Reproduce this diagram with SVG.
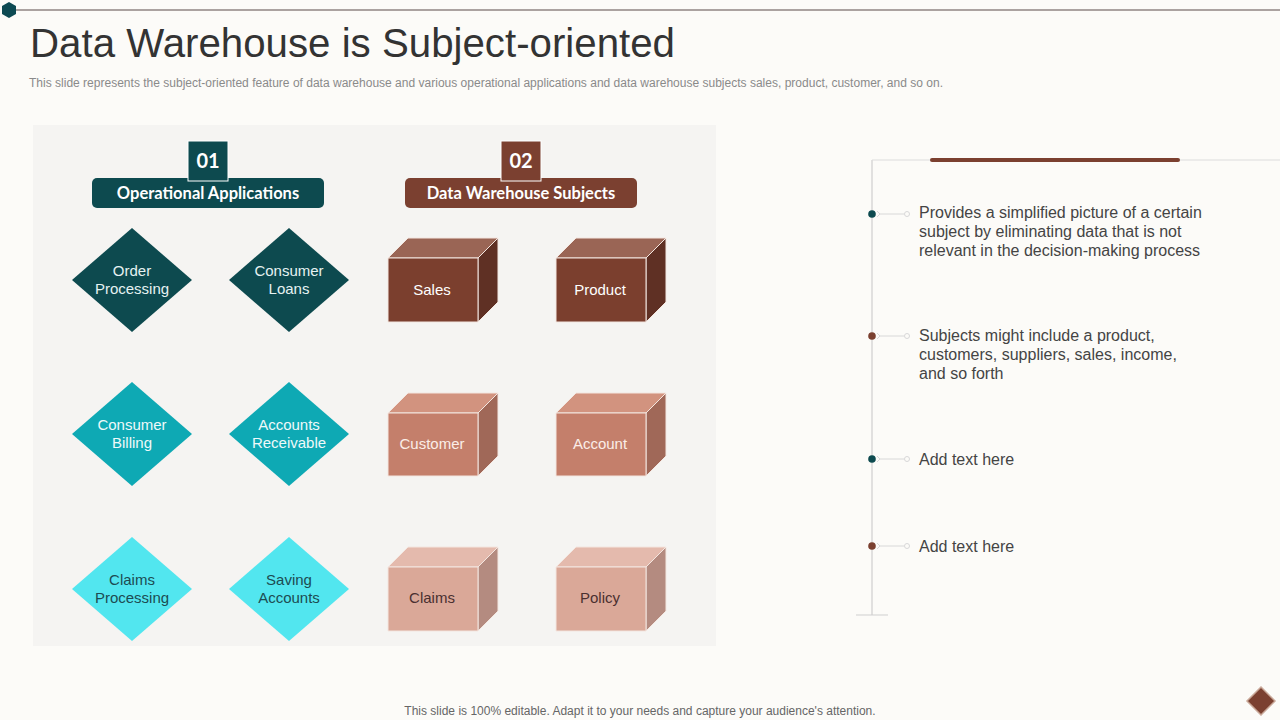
<svg xmlns="http://www.w3.org/2000/svg" width="1280" height="720" viewBox="0 0 1280 720">
<style>
.sans{font-family:"Liberation Sans",Arial,sans-serif}
.dia{stroke:none}
.dtxt{font-family:"Liberation Sans",Arial,sans-serif;font-size:15px;text-anchor:middle}
.ctxt{font-family:"Liberation Sans",Arial,sans-serif;font-size:15px;text-anchor:middle}
.edge{stroke:#f3e6e0;stroke-width:1;stroke-linejoin:round}
.btxt{font-family:"Liberation Sans",Arial,sans-serif;font-size:16px;fill:#444}
.hdr{font-family:"Lato","Liberation Sans",sans-serif;font-weight:bold;fill:#fff;text-anchor:middle}
</style>
<rect width="1280" height="720" fill="#fcfbf8"/>
<g id="topbar">
<line x1="12" y1="10" x2="1280" y2="10" stroke="#5a4a48" stroke-width="1.2"/>
<polygon points="9,2 16,6 16,14 9,18 2,14 2,6" fill="#0d4a52"/>
</g>
<text class="sans" x="30" y="57" font-size="40" fill="#333" textLength="645" lengthAdjust="spacingAndGlyphs">Data Warehouse is Subject-oriented</text>
<text class="sans" x="29" y="87" font-size="12" fill="#8a8a8a" textLength="914" lengthAdjust="spacingAndGlyphs">This slide represents the subject-oriented feature of data warehouse and various operational applications and data warehouse subjects sales, product, customer, and so on.</text>
<rect x="33" y="125" width="683" height="521" fill="#f5f4f2"/>

<g id="hdr1">
<rect x="92" y="178" width="232" height="30" rx="5" fill="#0d4a4f"/>
<rect x="188" y="141" width="40" height="40" fill="#0d4a4f" stroke="#ffffff" stroke-width="1"/>
<text class="hdr" x="208" y="168" font-size="20">01</text>
<text class="hdr" x="208" y="199" font-size="16.5">Operational Applications</text>
</g>
<g id="hdr2">
<rect x="405" y="178" width="232" height="30" rx="5" fill="#7b4030"/>
<rect x="501" y="141" width="40" height="40" fill="#7b4030" stroke="#ffffff" stroke-width="1"/>
<text class="hdr" x="521" y="168" font-size="20">02</text>
<text class="hdr" x="521" y="199" font-size="16.5">Data Warehouse Subjects</text>
</g>

<g id="d-order"><polygon class="dia" points="132,228 192,280 132,332 72,280" fill="#0d4a4f"/><text class="dtxt" x="132" y="276" fill="#e6f2f2">Order</text><text class="dtxt" x="132" y="294" fill="#e6f2f2">Processing</text></g>
<g id="d-loans"><polygon class="dia" points="289,228 349,280 289,332 229,280" fill="#0d4a4f"/><text class="dtxt" x="289" y="276" fill="#e6f2f2">Consumer</text><text class="dtxt" x="289" y="294" fill="#e6f2f2">Loans</text></g>
<g id="d-billing"><polygon class="dia" points="132,382 192,434 132,486 72,434" fill="#0ea9b4"/><text class="dtxt" x="132" y="430" fill="#eef9fa">Consumer</text><text class="dtxt" x="132" y="448" fill="#eef9fa">Billing</text></g>
<g id="d-recv"><polygon class="dia" points="289,382 349,434 289,486 229,434" fill="#0ea9b4"/><text class="dtxt" x="289" y="430" fill="#eef9fa">Accounts</text><text class="dtxt" x="289" y="448" fill="#eef9fa">Receivable</text></g>
<g id="d-claims"><polygon class="dia" points="132,537 192,589 132,641 72,589" fill="#52e6ef"/><text class="dtxt" x="132" y="585" fill="#1d4c52">Claims</text><text class="dtxt" x="132" y="603" fill="#1d4c52">Processing</text></g>
<g id="d-saving"><polygon class="dia" points="289,537 349,589 289,641 229,589" fill="#52e6ef"/><text class="dtxt" x="289" y="585" fill="#1d4c52">Saving</text><text class="dtxt" x="289" y="603" fill="#1d4c52">Accounts</text></g>

<g id="c-sales">
<polygon class="edge" points="388,258 408,238 498,238 478,258" fill="#9a6555"/>
<polygon class="edge" points="478,258 498,238 498,302 478,322" fill="#5f3024"/>
<rect class="edge" x="388" y="258" width="90" height="64" fill="#7b3f2e"/>
<text class="ctxt" x="432" y="295" fill="#fff">Sales</text>
</g>
<g id="c-product">
<polygon class="edge" points="556,258 576,238 666,238 646,258" fill="#9a6555"/>
<polygon class="edge" points="646,258 666,238 666,302 646,322" fill="#5f3024"/>
<rect class="edge" x="556" y="258" width="90" height="64" fill="#7b3f2e"/>
<text class="ctxt" x="600" y="295" fill="#fff">Product</text>
</g>
<g id="c-customer">
<polygon class="edge" points="388,413 408,393 498,393 478,413" fill="#d2937f"/>
<polygon class="edge" points="478,413 498,393 498,456 478,476" fill="#a06858"/>
<rect class="edge" x="388" y="413" width="90" height="63" fill="#c47f6b"/>
<text class="ctxt" x="432" y="449" fill="#fbeee8">Customer</text>
</g>
<g id="c-account">
<polygon class="edge" points="556,413 576,393 666,393 646,413" fill="#d2937f"/>
<polygon class="edge" points="646,413 666,393 666,456 646,476" fill="#a06858"/>
<rect class="edge" x="556" y="413" width="90" height="63" fill="#c47f6b"/>
<text class="ctxt" x="600" y="449" fill="#fbeee8">Account</text>
</g>
<g id="c-claims">
<polygon class="edge" points="388,567 408,547 498,547 478,567" fill="#e4baad"/>
<polygon class="edge" points="478,567 498,547 498,611 478,631" fill="#b48b80"/>
<rect class="edge" x="388" y="567" width="90" height="64" fill="#daa898"/>
<text class="ctxt" x="432" y="603" fill="#4a3030">Claims</text>
</g>
<g id="c-policy">
<polygon class="edge" points="556,567 576,547 666,547 646,567" fill="#e4baad"/>
<polygon class="edge" points="646,567 666,547 666,611 646,631" fill="#b48b80"/>
<rect class="edge" x="556" y="567" width="90" height="64" fill="#daa898"/>
<text class="ctxt" x="600" y="603" fill="#4a3030">Policy</text>
</g>

<g id="timeline">
<line x1="872" y1="160" x2="872" y2="615" stroke="#cfcfcf" stroke-width="1.2"/>
<line x1="872" y1="160" x2="1280" y2="160" stroke="#dcdcdc" stroke-width="1"/>
<line x1="856" y1="615" x2="888" y2="615" stroke="#cfcfcf" stroke-width="1"/>
<line x1="932" y1="160" x2="1178" y2="160" stroke="#7b4030" stroke-width="4" stroke-linecap="round"/>
</g>
<g id="connectors" fill="none" stroke="#d8d8d8" stroke-width="1">
<path d="M877,211 l3,3 l-3,3 M880,214 H904"/><circle cx="907" cy="214" r="2.5"/>
<path d="M877,333 l3,3 l-3,3 M880,336 H904"/><circle cx="907" cy="336" r="2.5"/>
<path d="M877,456 l3,3 l-3,3 M880,459 H904"/><circle cx="907" cy="459" r="2.5"/>
<path d="M877,543 l3,3 l-3,3 M880,546 H904"/><circle cx="907" cy="546" r="2.5"/>
</g>
<g id="b1"><circle cx="872" cy="214" r="3.8" fill="#0d4a4f"/>
<text class="btxt" x="919" y="218">Provides a simplified picture of a certain</text>
<text class="btxt" x="919" y="237">subject by eliminating data that is not</text>
<text class="btxt" x="919" y="256">relevant in the decision-making process</text></g>
<g id="b2"><circle cx="872" cy="336" r="3.8" fill="#7b4030"/>
<text class="btxt" x="919" y="341">Subjects might include a product,</text>
<text class="btxt" x="919" y="360">customers, suppliers, sales, income,</text>
<text class="btxt" x="919" y="379">and so forth</text></g>
<g id="b3"><circle cx="872" cy="459" r="3.8" fill="#0d4a4f"/>
<text class="btxt" x="919" y="465">Add text here</text></g>
<g id="b4"><circle cx="872" cy="546" r="3.8" fill="#7b4030"/>
<text class="btxt" x="919" y="552">Add text here</text></g>

<text class="sans" x="640" y="715" font-size="12" fill="#666" text-anchor="middle">This slide is 100% editable. Adapt it to your needs and capture your audience's attention.</text>
<g id="corner"><polygon points="1261,687 1275,701 1261,715 1247,701" fill="#7b4030" stroke="#c9a898" stroke-width="1.5"/></g>
</svg>
